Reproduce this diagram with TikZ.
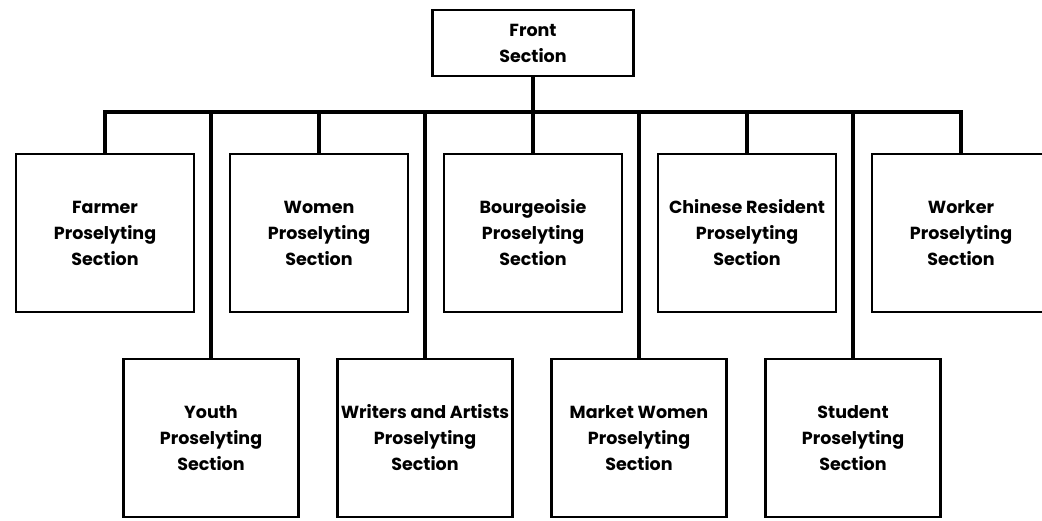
\documentclass[tikz,border=0pt]{standalone}
\usepackage{fontspec}
\setmainfont{Poppins}
\usetikzlibrary{positioning}
\tikzstyle{front} = [rectangle, draw=black, line width=2.6pt, minimum width=201pt, minimum height=66pt, align=center]
\tikzstyle{sect} = [rectangle, draw=black, line width=2.6pt, minimum width=178pt, minimum height=158pt, align=center, inner sep=0pt]
\tikzstyle{link} = [line width=3.8pt]
\tikzstyle{every node}=[font=\fontsize{17.5}{26}\selectfont\bfseries, node distance=214pt]

\begin{document}
\begin{tikzpicture}[x=1pt, y=-1pt]
			\useasboundingbox (0,0) rectangle (1042,521);
			%上层
			\node (front) [front] at (533,43) {Front\\Section};
			\node (farmer) [sect] at (105,233) {Farmer\\Proselyting\\Section};
			\node (women) [sect, right of=farmer] {Women\\Proselyting\\Section};
			\node (bourg) [sect, right of=women] {Bourgeoisie\\Proselyting\\Section};
			\node (chinese) [sect, right of=bourg] {Chinese Resident\\Proselyting\\Section};
			\node (worker) [sect, right of=chinese] {Worker\\Proselyting\\Section};
			%下层
			\node (youth) [sect, minimum width=175pt] at (211,438) {Youth\\Proselyting\\Section};
			\node (writers) [sect, minimum width=175pt, right of=youth] {Writers and Artists\\Proselyting\\Section};
			\node (market) [sect, minimum width=175pt, right of=writers] {Market Women\\Proselyting\\Section};
			\node (student) [sect, minimum width=175pt, right of=market] {Student\\Proselyting\\Section};
			\coordinate (hub) at (533,112);

			%连接
			\draw [link](front) -- (hub);
			\draw [link](farmer.north) |- (hub) -| (worker.north);
			\draw [link](women.north) -- (women.north |- hub);
			\draw [link](bourg.north) -- (hub);
			\draw [link](chinese.north) -- (chinese.north |- hub);
			\draw [link](youth.north) -- (youth.north |- hub);
			\draw [link](writers.north) -- (writers.north |- hub);
			\draw [link](market.north) -- (market.north |- hub);
			\draw [link](student.north) -- (student.north |- hub);
		\end{tikzpicture}
\end{document}
